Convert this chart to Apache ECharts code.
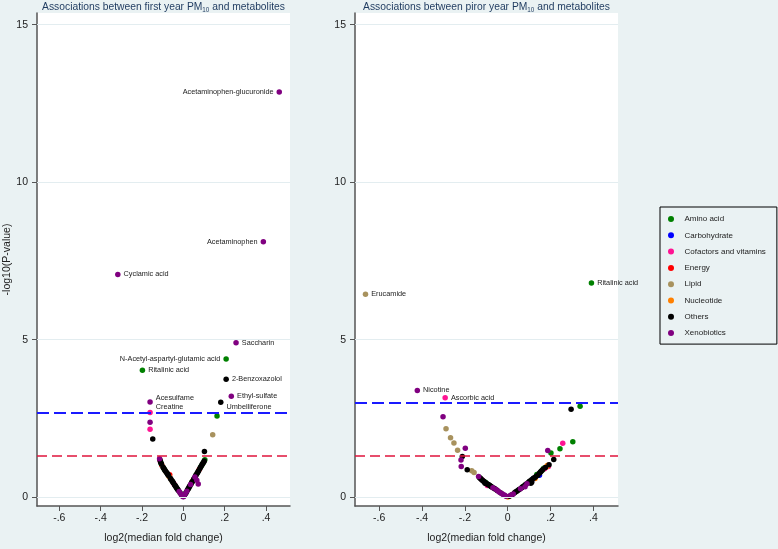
<!DOCTYPE html>
<html>
<head>
<meta charset="utf-8">
<script src="https://cdn.jsdelivr.net/npm/echarts@6/dist/echarts.min.js"></script>
<style>
  html, body { margin: 0; background: #eaf2f3; }
  #chart { width: 778px; height: 549px; }
</style>
</head>
<body>
<div id="chart"></div>
<script>
// metabolite classes, index used in the point lists below
const categories = ["Amino acid", "Carbohydrate", "Cofactors and vitamins", "Energy",
  "Lipid", "Nucleotide", "Others", "Xenobiotics"];
const catColors = ["#008000", "#0000ff", "#ff1493", "#ff0000", "#a8925e", "#ff8000", "#000000", "#800080"];

// first year PM10: [log2 fold change, -log10 p, class]
const firstYearPoints = [
  [-0.115, 1.22, 7], [-0.113, 1.18, 6], [-0.112, 1.15, 2], [-0.110, 1.12, 6], [-0.108, 1.08, 0],
  [-0.106, 1.05, 6], [-0.104, 1.01, 3], [-0.101, 0.98, 4], [-0.098, 0.95, 6], [-0.095, 0.92, 6],
  [-0.092, 0.89, 0], [-0.090, 0.86, 6], [-0.087, 0.83, 6], [-0.084, 0.80, 4], [-0.081, 0.78, 6],
  [-0.078, 0.75, 6], [-0.075, 0.72, 6], [-0.072, 0.69, 6], [-0.069, 0.66, 5], [-0.066, 0.71, 3],
  [-0.063, 0.60, 6], [-0.060, 0.57, 6], [-0.057, 0.54, 4], [-0.054, 0.51, 6], [-0.051, 0.48, 6],
  [-0.048, 0.45, 6], [-0.045, 0.42, 2], [-0.042, 0.39, 6], [-0.039, 0.36, 6], [-0.036, 0.33, 6],
  [-0.033, 0.30, 6], [-0.030, 0.27, 6], [-0.027, 0.24, 6], [-0.024, 0.21, 6], [-0.020, 0.18, 7],
  [-0.016, 0.14, 6], [-0.012, 0.10, 7], [-0.008, 0.07, 6], [-0.004, 0.03, 7], [-0.001, 0.01, 7],
  [0.002, 0.02, 7], [0.005, 0.05, 6], [0.008, 0.09, 7], [0.011, 0.12, 6], [0.014, 0.16, 6],
  [0.017, 0.19, 7], [0.020, 0.23, 6], [0.023, 0.26, 6], [0.026, 0.29, 6], [0.029, 0.33, 6],
  [0.032, 0.36, 6], [0.035, 0.40, 7], [0.038, 0.43, 6], [0.041, 0.47, 6], [0.044, 0.50, 6],
  [0.047, 0.53, 5], [0.050, 0.57, 6], [0.053, 0.60, 6], [0.056, 0.64, 7], [0.059, 0.67, 6],
  [0.062, 0.71, 6], [0.065, 0.74, 4], [0.068, 0.77, 6], [0.071, 0.81, 6], [0.074, 0.84, 6],
  [0.077, 0.88, 3], [0.080, 0.91, 6], [0.083, 0.95, 6], [0.086, 0.98, 0], [0.089, 1.01, 6],
  [0.092, 1.05, 6], [0.095, 1.08, 0], [0.098, 1.11, 6], [0.101, 1.15, 6], [0.104, 1.19, 0],
  [0.072, 0.42, 7], [0.065, 0.54, 7],
  [-0.148, 1.85, 6], [-0.161, 2.38, 7], [-0.161, 2.16, 2], [0.142, 1.98, 4], [0.102, 1.45, 6],
  [0.163, 2.58, 0]
];
const firstYearLabeled = [
  [0.464, 12.86, 7, "Acetaminophen-glucuronide"],
  [0.387, 8.11, 7, "Acetaminophen"],
  [-0.317, 7.07, 7, "Cyclamic acid"],
  [0.255, 4.90, 7, "Saccharin"],
  [0.207, 4.39, 0, "N-Acetyl-aspartyl-glutamic acid"],
  [-0.198, 4.03, 0, "Ritalinic acid"],
  [0.207, 3.74, 6, "2-Benzoxazolol"],
  [0.232, 3.20, 7, "Ethyl-sulfate"],
  [-0.161, 3.02, 7, "Acesulfame"],
  [0.181, 3.01, 6, "Umbelliferone"],
  [-0.161, 2.69, 2, "Creatine"]
];

// prior year PM10
const priorYearPoints = [
  [-0.136, 0.66, 7], [-0.133, 0.63, 0], [-0.130, 0.61, 6], [-0.126, 0.59, 6], [-0.123, 0.56, 6],
  [-0.120, 0.55, 2], [-0.117, 0.53, 6], [-0.114, 0.51, 6], [-0.110, 0.49, 6], [-0.106, 0.44, 6],
  [-0.104, 0.47, 0], [-0.102, 0.45, 6], [-0.098, 0.43, 6], [-0.095, 0.37, 2], [-0.094, 0.41, 6],
  [-0.090, 0.40, 6], [-0.086, 0.38, 6], [-0.082, 0.36, 6], [-0.078, 0.34, 6], [-0.074, 0.32, 6],
  [-0.069, 0.30, 7], [-0.064, 0.28, 6], [-0.059, 0.26, 6], [-0.054, 0.24, 7], [-0.049, 0.21, 6],
  [-0.044, 0.19, 7], [-0.038, 0.16, 7], [-0.032, 0.13, 6], [-0.026, 0.11, 7], [-0.020, 0.08, 7],
  [-0.014, 0.06, 7], [-0.008, 0.03, 7], [-0.002, 0.01, 5],
  [0.003, 0.01, 5], [0.008, 0.03, 6], [0.014, 0.06, 7], [0.020, 0.08, 6], [0.026, 0.10, 7],
  [0.032, 0.14, 6], [0.038, 0.17, 6], [0.044, 0.20, 6], [0.050, 0.23, 6], [0.055, 0.25, 6],
  [0.060, 0.27, 7], [0.065, 0.30, 6], [0.070, 0.33, 6], [0.075, 0.35, 6], [0.081, 0.33, 7],
  [0.080, 0.38, 6], [0.085, 0.41, 6], [0.090, 0.43, 7], [0.095, 0.46, 6], [0.100, 0.49, 6],
  [0.104, 0.51, 6], [0.108, 0.44, 6], [0.112, 0.47, 6], [0.112, 0.55, 6], [0.116, 0.57, 1],
  [0.120, 0.60, 6], [0.125, 0.62, 6], [0.128, 0.59, 5], [0.132, 0.66, 6], [0.136, 0.72, 0],
  [0.140, 0.70, 6], [0.148, 0.70, 1], [0.148, 0.76, 6], [0.152, 0.79, 6], [0.156, 0.82, 6],
  [0.160, 0.85, 0], [0.164, 0.88, 6], [0.168, 0.92, 0], [0.172, 0.90, 2], [0.176, 0.94, 6],
  [0.180, 0.96, 5], [0.184, 0.99, 5], [0.187, 1.01, 5], [0.190, 0.97, 2], [0.193, 1.03, 6],
  [-0.302, 2.55, 7], [-0.288, 2.17, 4], [-0.267, 1.89, 4], [-0.251, 1.72, 4], [-0.234, 1.49, 4],
  [-0.198, 1.55, 7], [-0.212, 1.29, 6], [-0.218, 1.18, 7], [-0.217, 0.97, 7], [-0.189, 0.87, 6],
  [-0.168, 0.84, 4], [-0.157, 0.78, 4],
  [0.296, 2.79, 6], [0.338, 2.89, 0], [0.187, 1.48, 7], [0.202, 1.40, 0], [0.215, 1.20, 6],
  [0.244, 1.54, 0], [0.257, 1.71, 2], [0.304, 1.76, 0]
];
const priorYearLabeled = [
  [-0.664, 6.44, 4, "Erucamide"],
  [0.391, 6.80, 0, "Ritalinic acid"],
  [-0.422, 3.39, 7, "Nicotine"],
  [-0.292, 3.16, 2, "Ascorbic acid"]
];

const xTicks = [-0.6, -0.4, -0.2, 0, 0.2, 0.4];
const yTicks = [0, 5, 10, 15];
const firstYearCuts = [1.3, 2.69];   // p=0.05 (red), multiple testing (blue)
const priorYearCuts = [1.3, 2.99];

// label side / vertical nudge for the annotated points
const labelPlace = {
  "Acetaminophen-glucuronide": ["left", 0],
  "Acetaminophen": ["left", 0],
  "N-Acetyl-aspartyl-glutamic acid": ["left", 0],
  "Acesulfame": ["right", -4],
  "Umbelliferone": ["right", 5],
  "Creatine": ["right", -5]
};

const font = "Liberation Sans, Arial, sans-serif";
let chart = echarts.init(document.getElementById("chart"));

function fmtX(v) {
  if (v === 0) return "0";
  return v.toFixed(1).replace("0.", ".");
}

function makeAxes(idx, withName) {
  let x = {
    type: "value", gridIndex: idx,
    min: idx === 0 ? -0.708 : -0.713, max: idx === 0 ? 0.516 : 0.515,
    name: "log2(median fold change)", nameLocation: "middle", nameGap: 27,
    nameTextStyle: { fontSize: 10.5, color: "#222", fontFamily: font },
    axisLine: { show: true, onZero: false, lineStyle: { color: "#555", width: 1.5 } },
    axisTick: { show: true, length: 5, customValues: xTicks, lineStyle: { color: "#555" } },
    axisLabel: { customValues: xTicks, formatter: fmtX, fontSize: 10.5, color: "#222", margin: 7, fontFamily: font },
    splitLine: { show: false }
  };
  let y = {
    type: "value", gridIndex: idx, min: -0.28, max: 15.37,
    name: withName ? "-log10(P-value)" : "", nameLocation: "middle", nameGap: 23,
    nameTextStyle: { fontSize: 10.5, color: "#222", fontFamily: font },
    axisLine: { show: true, onZero: false, lineStyle: { color: "#555", width: 1.5 } },
    axisTick: { show: true, length: 5, customValues: yTicks, lineStyle: { color: "#555" } },
    axisLabel: { customValues: yTicks, fontSize: 10.5, color: "#222", margin: 9, fontFamily: font },
    splitLine: { show: false }
  };
  return [x, y];
}

let ax0 = makeAxes(0, true);
let ax1 = makeAxes(1, false);

let series = [];
[[firstYearPoints, firstYearLabeled, firstYearCuts], [priorYearPoints, priorYearLabeled, priorYearCuts]].forEach(function (panel, p) {
  let pts = panel[0], lab = panel[1], cuts = panel[2];

  // gridlines + threshold lines
  series.push({
    type: "scatter", xAxisIndex: p, yAxisIndex: p, data: [], silent: true, z: 1,
    markLine: {
      silent: true, symbol: "none", animation: false,
      label: { show: false },
      data: yTicks.map(function (t) {
        return { yAxis: t, lineStyle: { color: "#e3edf0", width: 1.2, type: "solid" } };
      }).concat([
        { yAxis: cuts[0], lineStyle: { color: "#e0143c", width: 1.6, type: [10, 5] } },
        { yAxis: cuts[1], lineStyle: { color: "#1a1aff", width: 1.8, type: [12, 5] } }
      ])
    }
  });

  categories.forEach(function (name, c) {
    series.push({
      name: name, type: "scatter", xAxisIndex: p, yAxisIndex: p,
      symbolSize: 5.5, z: 3,
      itemStyle: { color: catColors[c], opacity: 1 },
      data: pts.filter(function (d) { return d[2] === c; }).map(function (d) { return [d[0], d[1]]; })
    });
  });

  series.push({
    type: "scatter", xAxisIndex: p, yAxisIndex: p, symbolSize: 5.5, z: 4,
    label: { fontSize: 7.3, color: "#222", fontFamily: font, distance: 3 },
    data: lab.map(function (d) {
      let place = labelPlace[d[3]] || ["right", 0];
      return {
        value: [d[0], d[1]],
        itemStyle: { color: catColors[d[2]], opacity: 1 },
        label: { show: true, position: place[0], offset: [0, place[1]], formatter: d[3] }
      };
    })
  });
});

let titleStyle = {
  fontSize: 10.3, fill: "#1e3a5f", fontFamily: font,
  textAlign: "center", textVerticalAlign: "middle",
  rich: { s: { fontSize: 6.3, fill: "#1e3a5f", fontFamily: font, verticalAlign: "bottom", lineHeight: 12 } }
};

let option = {
  backgroundColor: "#eaf2f3",
  animation: false,
  grid: [
    { left: 37, top: 13, width: 253, height: 502, show: true, backgroundColor: "#ffffff", borderWidth: 0 },
    { left: 355, top: 13, width: 263, height: 502, show: true, backgroundColor: "#ffffff", borderWidth: 0 }
  ],
  xAxis: [ax0[0], ax1[0]],
  yAxis: [ax0[1], ax1[1]],
  legend: {
    data: categories, orient: "vertical", left: 660, top: 207,
    padding: [7, 11, 6, 8], itemGap: 6.3,
    icon: "circle", itemWidth: 17, itemHeight: 6,
    borderColor: "#000", borderWidth: 1,
    textStyle: { fontSize: 8, color: "#222", fontFamily: font, lineHeight: 10 },
    itemStyle: { opacity: 1 },
    selectedMode: false
  },
  graphic: [
    { type: "text", x: 163.5, y: 7, style: Object.assign({ text: "Associations between first year PM{s|10} and metabolites" }, titleStyle) },
    { type: "text", x: 486.5, y: 7, style: Object.assign({ text: "Associations between piror year PM{s|10} and metabolites" }, titleStyle) }
  ],
  series: series
};

chart.setOption(option);
</script>
</body>
</html>
